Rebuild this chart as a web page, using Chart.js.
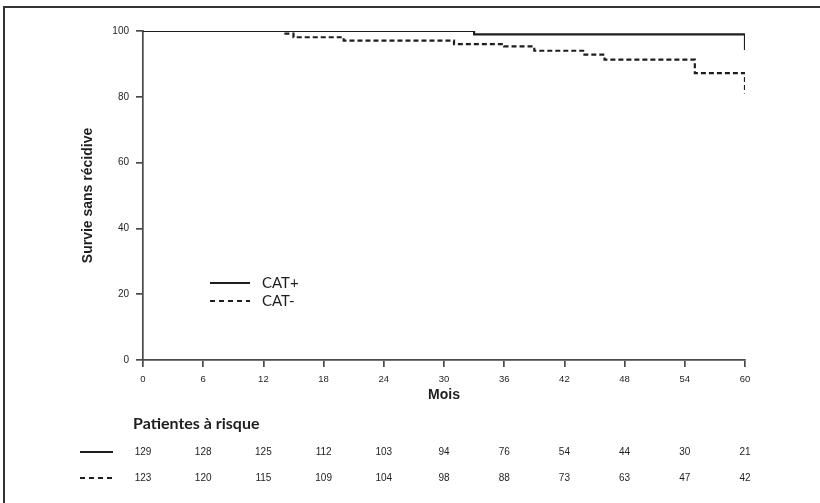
<!DOCTYPE html>
<html>
<head>
<meta charset="utf-8">
<script src="https://cdn.jsdelivr.net/npm/chart.js@4.4.0/dist/chart.umd.min.js"></script>
<style>
  body { margin: 0; background: #fff; }
  canvas { display: block; }
</style>
</head>
<body>
<canvas id="survChart" width="820" height="503"></canvas>
<script>
"use strict";
// follow-up months shown on the axis and in the risk table
const months = [0, 6, 12, 18, 24, 30, 36, 42, 48, 54, 60];
const riskCatPlus = [129, 128, 125, 112, 103, 94, 76, 54, 44, 30, 21];
const riskCatMinus = [123, 120, 115, 109, 104, 98, 88, 73, 63, 47, 42];

// Kaplan-Meier steps (month, survival %)
const catPlusTime = [0, 33, 60, 60];
const catPlusSurv = [100, 99, 99, 94.2];
const catMinusTime = [0, 14, 15, 20, 31, 36, 39, 44, 46, 55, 60, 60];
const catMinusSurv = [100, 99.2, 98.1, 97.1, 96, 95.3, 94, 92.8, 91.3, 87.2, 87.2, 81];

const seriesNames = ["CAT+", "CAT-"];
const yTicks = [0, 20, 40, 60, 80, 100];

const arial = '"Liberation Sans", Arial, sans-serif';
const calibri = 'Lato, "Open Sans", sans-serif';
const ink = "#1e1e1e";
const axisGrey = "#4a4a4a";

const toPoints = (xs, ys) => xs.map((t, i) => ({ x: t, y: ys[i] }));

// frame, legend and the "patientes à risque" table
const extras = {
  id: "extras",
  afterDraw(chart) {
    const ctx = chart.ctx;
    const xs = chart.scales.x;
    ctx.save();

    ctx.strokeStyle = "#333";
    ctx.lineWidth = 2;
    ctx.setLineDash([]);
    ctx.beginPath();
    ctx.moveTo(4, 503);
    ctx.lineTo(4, 7);
    ctx.lineTo(820, 7);
    ctx.stroke();

    // legend inside the plot
    ctx.strokeStyle = ink;
    ctx.lineWidth = 2.2;
    ctx.beginPath();
    ctx.moveTo(210, 283);
    ctx.lineTo(250, 283);
    ctx.stroke();
    ctx.setLineDash([5, 4]);
    ctx.beginPath();
    ctx.moveTo(210, 301);
    ctx.lineTo(250, 301);
    ctx.stroke();
    ctx.setLineDash([]);
    ctx.fillStyle = ink;
    ctx.font = "15px " + calibri;
    ctx.textBaseline = "middle";
    ctx.textAlign = "left";
    ctx.fillText(seriesNames[0], 262, 283);
    ctx.fillText(seriesNames[1], 262, 301);

    // risk table
    ctx.font = "bold 16px " + calibri;
    ctx.fillText("Patientes à risque", 133, 424);

    ctx.beginPath();
    ctx.moveTo(80, 452);
    ctx.lineTo(113, 452);
    ctx.stroke();
    ctx.setLineDash([5, 4]);
    ctx.beginPath();
    ctx.moveTo(80, 478);
    ctx.lineTo(113, 478);
    ctx.stroke();
    ctx.setLineDash([]);

    ctx.font = "10px " + arial;
    ctx.textAlign = "center";
    months.forEach((m, i) => {
      const px = xs.getPixelForValue(m);
      ctx.fillText(String(riskCatPlus[i]), px, 452);
      ctx.fillText(String(riskCatMinus[i]), px, 478);
    });
    ctx.restore();
  },
};

new Chart(document.getElementById("survChart"), {
  type: "line",
  data: {
    datasets: [
      {
        label: seriesNames[0],
        data: toPoints(catPlusTime, catPlusSurv),
        stepped: true,
        borderColor: ink,
        borderWidth: 2.2,
        pointRadius: 0,
        fill: false,
      },
      {
        label: seriesNames[1],
        data: toPoints(catMinusTime, catMinusSurv),
        stepped: true,
        borderColor: ink,
        borderWidth: 2.2,
        borderDash: [5, 3],
        pointRadius: 0,
        fill: false,
      },
    ],
  },
  options: {
    responsive: false,
    animation: false,
    layout: { padding: { left: 70, top: 31, right: 75, bottom: 99 } },
    plugins: {
      legend: { display: false },
      tooltip: { enabled: false },
    },
    scales: {
      x: {
        type: "linear",
        min: 0,
        max: 60,
        afterFit: (s) => { s.height = 44; },
        afterBuildTicks: (s) => { s.ticks = months.map((v) => ({ value: v })); },
        ticks: { font: { family: arial, size: 9.5 }, color: ink, padding: 7, maxRotation: 0 },
        grid: { drawOnChartArea: false, tickLength: 7, color: axisGrey, lineWidth: 1.7 },
        border: { color: axisGrey, width: 1.7 },
        title: {
          display: true,
          text: "Mois",
          font: { family: arial, size: 14, weight: "bold" },
          color: ink,
          padding: { top: 0, bottom: 0 },
        },
      },
      y: {
        min: 0,
        max: 100,
        afterFit: (s) => { s.width = 73; },
        afterBuildTicks: (s) => { s.ticks = yTicks.map((v) => ({ value: v })); },
        ticks: { font: { family: arial, size: 10 }, color: ink, padding: 7 },
        grid: { drawOnChartArea: false, tickLength: 7, color: axisGrey, lineWidth: 1.7 },
        border: { color: axisGrey, width: 1.7 },
        title: {
          display: true,
          text: "Survie sans récidive",
          font: { family: arial, size: 14, weight: "bold" },
          color: ink,
          padding: { top: 10, bottom: 0 },
        },
      },
    },
  },
  plugins: [extras],
});
</script>
</body>
</html>
